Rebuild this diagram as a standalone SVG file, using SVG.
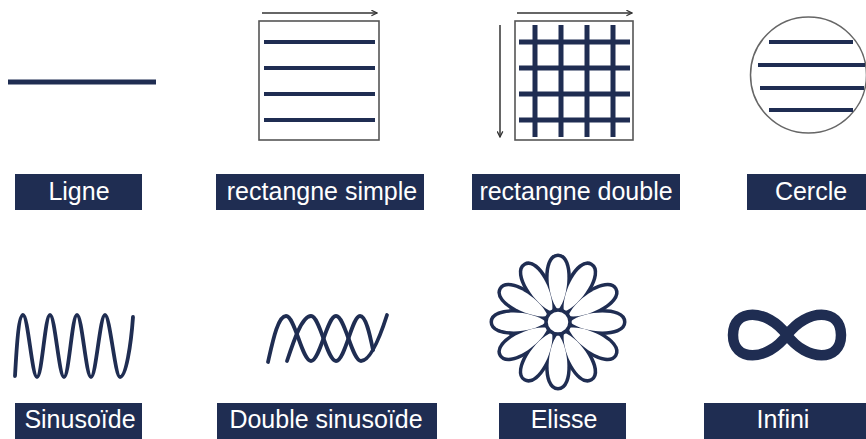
<svg xmlns="http://www.w3.org/2000/svg" width="866" height="439" viewBox="0 0 866 439">
<style>
.lbl{fill:#1f2d52}
.txt{fill:#fff;font-family:"Liberation Sans",Arial,sans-serif;font-size:25px;text-anchor:middle}
.nv{stroke:#1f2d52;fill:none;stroke-linecap:butt}
.frame{fill:#fff;stroke:#555;stroke-width:1.6}
.arr{stroke:#333;stroke-width:1.5;fill:none;marker-end:url(#ah)}
.wave{fill:none;stroke:#1f2d52;stroke-width:3.8;stroke-linecap:round;stroke-linejoin:round}
</style>
<defs>
<marker id="ah" viewBox="0 0 10 10" refX="9" refY="5" markerWidth="7" markerHeight="7" markerUnits="userSpaceOnUse" orient="auto">
<path d="M1,1 L9,5 L1,9" fill="none" stroke="#333" stroke-width="1.8"/>
</marker>
<path id="pet" d="M0,-12 C-12,-26 -13,-65 0,-65 C13,-65 12,-26 0,-12 Z"/>
</defs>
<rect width="866" height="439" fill="#fff"/>

<g id="ligne">
<line class="nv" x1="8" y1="82" x2="156" y2="82" stroke-width="5"/>
<rect class="lbl" x="15" y="174" width="127" height="36"/>
<text class="txt" x="79" y="200">Ligne</text>
</g>

<g id="rect-simple">
<line class="arr" x1="262" y1="13" x2="377" y2="13"/>
<rect class="frame" x="259" y="21" width="120" height="119"/>
<g class="nv" stroke-width="4">
<line x1="264" y1="42" x2="375" y2="42"/>
<line x1="264" y1="68" x2="375" y2="68"/>
<line x1="264" y1="94" x2="375" y2="94"/>
<line x1="264" y1="120" x2="375" y2="120"/>
</g>
<rect class="lbl" x="216" y="174" width="208" height="36"/>
<text class="txt" x="322" y="200">rectangne simple</text>
</g>

<g id="rect-double">
<line class="arr" x1="517" y1="13" x2="632" y2="13"/>
<line class="arr" x1="500" y1="25" x2="500" y2="137"/>
<rect class="frame" x="515" y="21" width="118" height="119"/>
<g class="nv" stroke-width="5">
<line x1="519" y1="42" x2="630" y2="42"/>
<line x1="519" y1="68" x2="630" y2="68"/>
<line x1="519" y1="94" x2="630" y2="94"/>
<line x1="519" y1="120" x2="630" y2="120"/>
<line x1="535" y1="25" x2="535" y2="137"/>
<line x1="561" y1="25" x2="561" y2="137"/>
<line x1="587" y1="25" x2="587" y2="137"/>
<line x1="613" y1="25" x2="613" y2="137"/>
</g>
<rect class="lbl" x="472" y="174" width="208" height="36"/>
<text class="txt" x="576" y="200">rectangne double</text>
</g>

<g id="cercle">
<circle cx="808.5" cy="75" r="58" fill="#fff" stroke="#666" stroke-width="1.5"/>
<g class="nv" stroke-width="4">
<line x1="769" y1="42" x2="853" y2="42"/>
<line x1="758" y1="65" x2="865" y2="65"/>
<line x1="760" y1="88" x2="864" y2="88"/>
<line x1="769" y1="110" x2="853" y2="110"/>
</g>
<rect class="lbl" x="747" y="174" width="119" height="36"/>
<text class="txt" x="811" y="200">Cercle</text>
</g>

<g id="sinusoide">
<path class="wave" d="M15,376 C17,340 19,315 23,315 C28,315 32,377 37,377 C42,377 45,315 50,315 C55,315 59,377 64,377 C69,377 72,315 77,315 C82,315 86,377 91,377 C96,377 100,315 105,315 C110,315 115,377 120,377 C126,377 131,345 133,317"/>
<rect class="lbl" x="15" y="403" width="127" height="36"/>
<text class="txt" x="80" y="428">Sinusoïde</text>
</g>

<g id="double-sinusoide">
<path class="wave" d="M268,362 C273,340 278,316 286,316 C295,316 302,361 311,361 C320,361 327,316 336,316 C345,316 352,361 361,361 C370,361 379,340 387,315"/>
<path class="wave" d="M287,361 C294,340 302,316 311,316 C320,316 327,361 336,361 C345,361 352,316 360,316 C366,316 370,335 373,350"/>
<rect class="lbl" x="217" y="403" width="220" height="36"/>
<text class="txt" x="326" y="428">Double sinusoïde</text>
</g>

<g id="elisse">
<g transform="translate(558 322)">
<g fill="#1f2d52" stroke="#1f2d52" stroke-width="7" stroke-linejoin="round">
<use href="#pet" transform="rotate(0)"/><use href="#pet" transform="rotate(30)"/><use href="#pet" transform="rotate(60)"/><use href="#pet" transform="rotate(90)"/><use href="#pet" transform="rotate(120)"/><use href="#pet" transform="rotate(150)"/><use href="#pet" transform="rotate(180)"/><use href="#pet" transform="rotate(210)"/><use href="#pet" transform="rotate(240)"/><use href="#pet" transform="rotate(270)"/><use href="#pet" transform="rotate(300)"/><use href="#pet" transform="rotate(330)"/>
</g>
<g fill="#fff">
<use href="#pet" transform="rotate(0)"/><use href="#pet" transform="rotate(30)"/><use href="#pet" transform="rotate(60)"/><use href="#pet" transform="rotate(90)"/><use href="#pet" transform="rotate(120)"/><use href="#pet" transform="rotate(150)"/><use href="#pet" transform="rotate(180)"/><use href="#pet" transform="rotate(210)"/><use href="#pet" transform="rotate(240)"/><use href="#pet" transform="rotate(270)"/><use href="#pet" transform="rotate(300)"/><use href="#pet" transform="rotate(330)"/>
</g>
<circle r="12" fill="#fff" stroke="#1f2d52" stroke-width="3.5"/>
</g>
<rect class="lbl" x="499" y="403" width="127" height="36"/>
<text class="txt" x="564" y="428">Elisse</text>
</g>

<g id="infini">
<path d="M787,335 C807,308 841,308 841,335 C841,362 807,362 787,335 C767,308 733,308 733,335 C733,362 767,362 787,335 Z" fill="none" stroke="#1f2d52" stroke-width="10.5"/>
<rect class="lbl" x="704" y="403" width="162" height="36"/>
<text class="txt" x="783" y="428">Infini</text>
</g>
</svg>
